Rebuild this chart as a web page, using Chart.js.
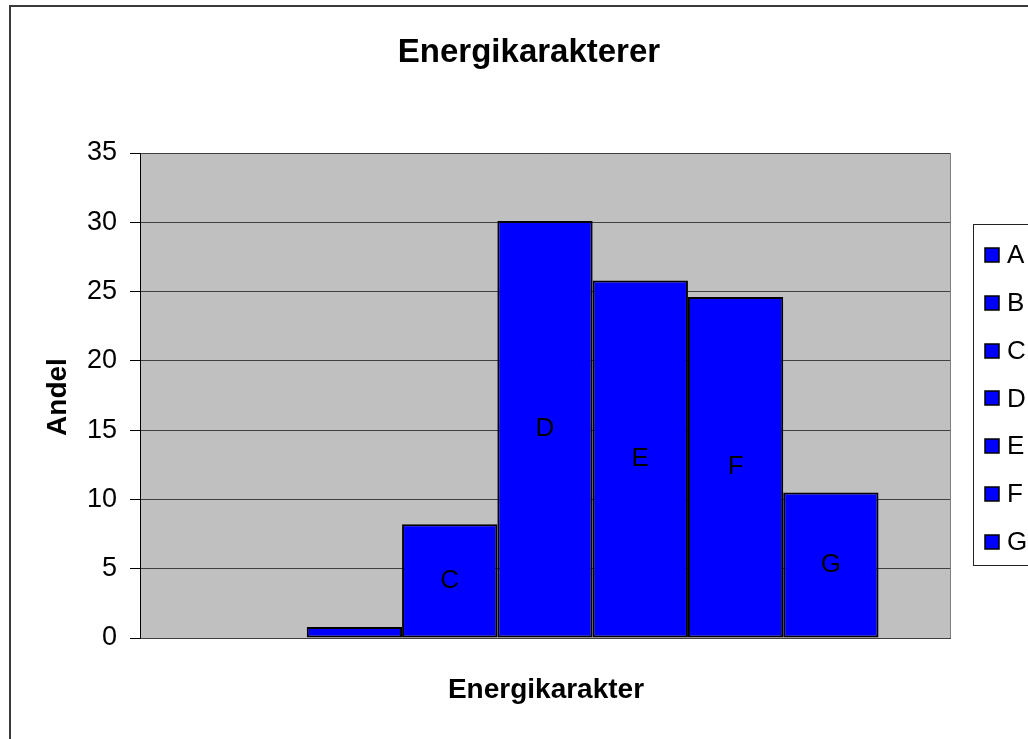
<!DOCTYPE html>
<html>
<head>
<meta charset="utf-8">
<script src="https://cdn.jsdelivr.net/npm/chart.js@4"></script>
<style>
  html, body { margin: 0; padding: 0; background: #fff; }
  #wrap { width: 1028px; height: 739px; position: relative; }
</style>
</head>
<body>
<div id="wrap"><canvas id="chart"></canvas></div>
<script>
const categories = ["A", "B", "C", "D", "E", "F", "G"];
const values = [0, 0.8, 8.2, 30.1, 25.8, 24.6, 10.5];
const barLabels = ["", "", "C", "D", "E", "F", "G"];
const yTicks = [0, 5, 10, 15, 20, 25, 30, 35];

const chartTitle = "Energikarakterer";
const xTitle = "Energikarakter";
const yTitle = "Andel";

const FONT = "'Liberation Sans', Arial, sans-serif";

// plot background, outer frame, titles, legend, bar labels
const decor = {
  id: "decor",
  beforeDraw(chart) {
    const { ctx, chartArea: a } = chart;
    ctx.save();
    ctx.fillStyle = "#fff";
    ctx.fillRect(0, 0, chart.width, chart.height);
    ctx.strokeStyle = "#3a3a3a";
    ctx.lineWidth = 2;
    ctx.strokeRect(10, 6, 1100, 800);
    ctx.fillStyle = "#c0c0c0";
    ctx.fillRect(a.left, a.top, a.right - a.left, a.bottom - a.top);
    ctx.strokeStyle = "#808080";
    ctx.lineWidth = 1;
    ctx.strokeRect(a.left + 0.5, a.top + 0.5, a.right - a.left, a.bottom - a.top);
    ctx.restore();
  },
  afterDatasetsDraw(chart) {
    const { ctx } = chart;
    ctx.save();
    ctx.font = "26px " + FONT;
    ctx.fillStyle = "#000";
    ctx.textAlign = "center";
    ctx.textBaseline = "middle";
    chart.data.datasets.forEach((ds, i) => {
      const bar = chart.getDatasetMeta(i).data[0];
      if (!bar || !barLabels[i]) return;
      ctx.fillText(barLabels[i], bar.x, (bar.y + bar.base) / 2);
    });
    ctx.restore();
  },
  afterDraw(chart) {
    const { ctx } = chart;
    ctx.save();
    ctx.fillStyle = "#000";
    ctx.textAlign = "center";
    ctx.textBaseline = "middle";

    ctx.font = "bold 33px " + FONT;
    ctx.fillText(chartTitle, 529, 53);

    ctx.font = "bold 28px " + FONT;
    ctx.fillText(xTitle, 546, 690);

    ctx.save();
    ctx.translate(58, 397);
    ctx.rotate(-Math.PI / 2);
    ctx.font = "bold 28px " + FONT;
    ctx.fillText(yTitle, 0, 0);
    ctx.restore();

    // legend box
    ctx.strokeStyle = "#222";
    ctx.lineWidth = 1;
    ctx.strokeRect(973.5, 224.5, 120, 341);
    ctx.font = "26px " + FONT;
    ctx.textAlign = "left";
    chart.data.datasets.forEach((ds, i) => {
      const cy = 255 + i * 47.8;
      ctx.fillStyle = ds.backgroundColor;
      ctx.fillRect(985, Math.round(cy - 7), 14, 14);
      ctx.strokeStyle = "#000";
      ctx.lineWidth = 1.5;
      ctx.strokeRect(985, Math.round(cy - 7), 14, 14);
      ctx.fillStyle = "#000";
      ctx.fillText(ds.label, 1007, cy + 1);
    });
    ctx.restore();
  },
};

new Chart(document.getElementById("chart"), {
  type: "bar",
  data: {
    labels: [""],
    datasets: categories.map((name, i) => ({
      label: name,
      data: [values[i]],
      backgroundColor: "#0000ff",
      borderColor: "#000",
      borderWidth: 2,
      borderSkipped: false,
      barPercentage: 1,
      categoryPercentage: 7 / 8.5,
    })),
  },
  options: {
    responsive: true,
    maintainAspectRatio: false,
    animation: false,
    layout: { padding: { left: 10, right: 78, top: 153, bottom: 101 } },
    plugins: {
      legend: { display: false },
      title: { display: false },
      tooltip: { enabled: false },
    },
    scales: {
      x: {
        ticks: { display: false },
        grid: { display: false, drawTicks: false },
        border: { color: "#404040", width: 1 },
        afterFit: (s) => { s.height = 0; },
      },
      y: {
        min: 0,
        max: 35,
        afterBuildTicks: (s) => { s.ticks = yTicks.map((v) => ({ value: v })); },
        ticks: {
          padding: 13,
          color: "#000",
          font: { family: FONT, size: 27 },
        },
        grid: {
          color: "#404040",
          tickColor: "#000",
          tickLength: 10,
        },
        border: { color: "#000", width: 1 },
        afterFit: (s) => { s.width = 130; },
      },
    },
  },
  plugins: [decor],
});
</script>
</body>
</html>
